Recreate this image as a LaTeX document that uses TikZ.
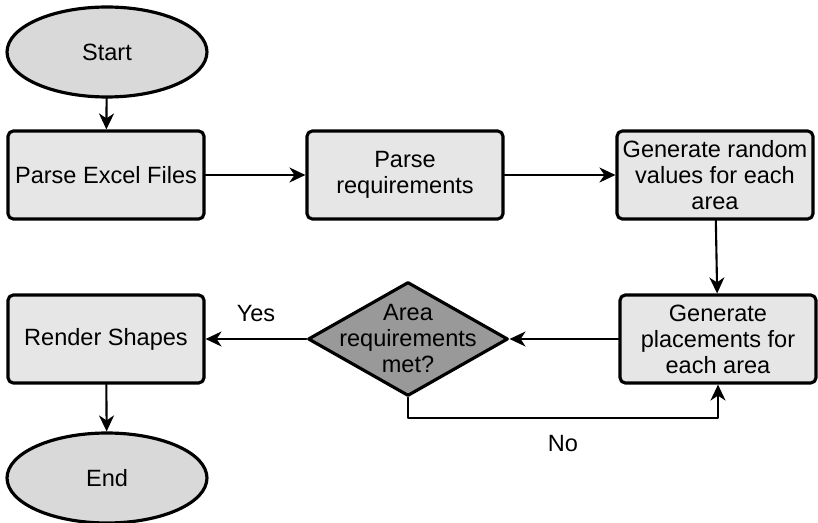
\documentclass[tikz,border=0pt]{standalone}
\usepackage{fontspec}
\setmainfont{Liberation Sans}
\usetikzlibrary{shapes.geometric,arrows.meta,positioning}
\definecolor{boxgray}{HTML}{E6E6E6}
\definecolor{termgray}{HTML}{D9D9D9}
\definecolor{decgray}{HTML}{999999}

\begin{document}
\begin{tikzpicture}[x=0.02cm,y=-0.02cm,line cap=round,line join=round,
  font=\fontsize{13.4}{14.8}\selectfont,
  stepbox/.style={draw,line width=1.8pt,rounded corners=3pt,fill=boxgray,
    minimum width=3.92cm,minimum height=1.76cm,align=center,inner sep=2pt},
  terminal/.style={draw,ellipse,line width=1.8pt,fill=termgray,
    minimum width=4cm,minimum height=1.8cm},
  decision/.style={draw,diamond,line width=1.8pt,fill=decgray,
    minimum width=4cm,minimum height=2.28cm,inner sep=0pt},
  arr/.style={-{Stealth[length=0.32cm,width=0.3cm,inset=0.1cm]},line width=1.2pt}]
\useasboundingbox (0,0) rectangle (818,523);

% top row
\node[terminal] (start) at (107,52) {Start};
\node[stepbox] (excel) at (106,175) {Parse Excel Files};
\node[stepbox] (req) at (405,175) {Parse\\requirements};
\node[stepbox] (random) at (715,175) {Generate random\\values for each\\area};

% bottom row
\node[stepbox] (place) at (718,339) {Generate\\placements for\\each area};
\node[decision] (check) at (408,339) {};
\node[align=center] (checktext) at (check) {Area\\requirements\\met?};
\node[stepbox] (render) at (106,339) {Render Shapes};
\node[terminal] (end) at (107,478) {End};

\draw[arr] (start) -- (excel);
\draw[arr] (excel) -- (req);
\draw[arr] (req) -- (random);
\draw[arr] (random) -- (place);
\draw[arr] (place) -- (check);
\draw[arr] (check) -- node[above=0.2cm] (yes) {Yes} (render);
\draw[arr] (check.south) -- ++(0,20) -| node[pos=0.25,below=0.22cm] (no) {No} (place.south);
\draw[arr] (render) -- (end);
\end{tikzpicture}
\end{document}
